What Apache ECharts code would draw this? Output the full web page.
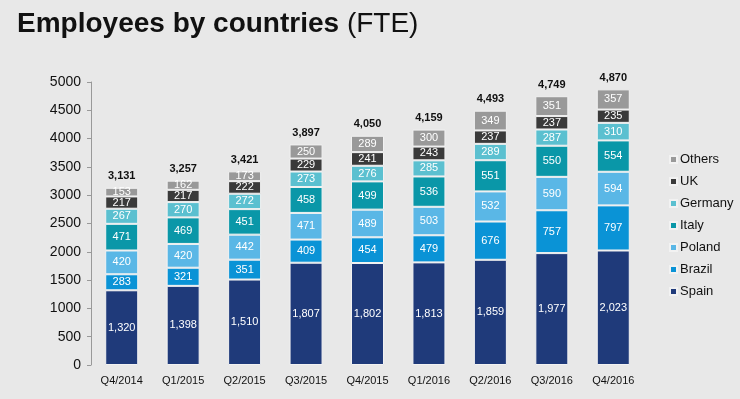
<!DOCTYPE html>
<html>
<head>
<meta charset="utf-8">
<script src="https://cdn.jsdelivr.net/npm/echarts@6/dist/echarts.min.js"></script>
<style>
  html, body { margin: 0; padding: 0; background: #e8e8e8; }
  #chart { width: 740px; height: 399px; }
</style>
</head>
<body>
<div id="chart"></div>
<script>
const quarters = ['Q4/2014', 'Q1/2015', 'Q2/2015', 'Q3/2015', 'Q4/2015', 'Q1/2016', 'Q2/2016', 'Q3/2016', 'Q4/2016']
const spain   = [1320, 1398, 1510, 1807, 1802, 1813, 1859, 1977, 2023]
const brazil  = [283, 321, 351, 409, 454, 479, 676, 757, 797]
const poland  = [420, 420, 442, 471, 489, 503, 532, 590, 594]
const italy   = [471, 469, 451, 458, 499, 536, 551, 550, 554]
const germany = [267, 270, 272, 273, 276, 285, 289, 287, 310]
const uk      = [217, 217, 222, 229, 241, 243, 237, 237, 235]
const others  = [153, 162, 173, 250, 289, 300, 349, 351, 357]
const totals  = [3131, 3257, 3421, 3897, 4050, 4159, 4493, 4749, 4870]

const chart = echarts.init(document.getElementById('chart'))

const fmt = v => v.toLocaleString('en-US')

function seg(name, data, color) {
  return {
    name: name,
    type: 'bar',
    stack: 'fte',
    barWidth: 33,
    data: data,
    itemStyle: { color: color, borderColor: '#f2f2f2', borderWidth: 1 },
    label: {
      show: true,
      color: '#fff',
      fontSize: 11,
      fontFamily: 'Liberation Sans',
      formatter: p => fmt(p.value)
    }
  }
}

chart.setOption({
  backgroundColor: '#e8e8e8',
  animation: false,
  title: {
    left: 12,
    top: 5,
    text: '{b|Employees by countries}{n| (FTE)}',
    textStyle: {
      rich: {
        b: { fontSize: 28, fontWeight: 'bold', color: '#111', fontFamily: 'Liberation Sans' },
        n: { fontSize: 28, fontWeight: 'normal', color: '#111', fontFamily: 'Liberation Sans' }
      }
    }
  },
  legend: {
    orient: 'vertical',
    left: 664,
    top: 148,
    itemWidth: 7,
    itemHeight: 7,
    itemGap: 9,
    icon: 'rect',
    data: ['Others', 'UK', 'Germany', 'Italy', 'Poland', 'Brazil', 'Spain'],
    textStyle: { fontSize: 13, color: '#111', fontFamily: 'Liberation Sans', padding: [0, 0, 0, -2] }
  },
  grid: { left: 91, top: 82, width: 553, bottom: 34 },
  xAxis: {
    type: 'category',
    data: quarters,
    axisLine: { show: false },
    axisTick: { show: false },
    axisLabel: { color: '#111', fontSize: 11, fontFamily: 'Liberation Sans', margin: 10 }
  },
  yAxis: {
    type: 'value',
    min: 0,
    max: 5000,
    interval: 500,
    splitLine: { show: false },
    axisLine: { show: true, lineStyle: { color: '#999' } },
    axisTick: { show: true, length: 4, lineStyle: { color: '#999' } },
    axisLabel: { color: '#111', fontSize: 14, fontFamily: 'Liberation Sans', margin: 10, formatter: v => String(v) }
  },
  series: [
    seg('Spain', spain, '#1f3a7a'),
    seg('Brazil', brazil, '#0a93d6'),
    seg('Poland', poland, '#5ab7e6'),
    seg('Italy', italy, '#0a97a8'),
    seg('Germany', germany, '#5bc0d0'),
    seg('UK', uk, '#3a3a3a'),
    seg('Others', others, '#999999'),
    {
      name: 'Total',
      type: 'bar',
      stack: 'fte',
      barWidth: 33,
      data: totals.map(() => 0),
      itemStyle: { color: 'transparent' },
      label: {
        show: true,
        position: 'top',
        distance: 6,
        color: '#111',
        fontSize: 11,
        fontWeight: 'bold',
        fontFamily: 'Liberation Sans',
        formatter: p => fmt(totals[p.dataIndex])
      }
    }
  ]
})
</script>
</body>
</html>
